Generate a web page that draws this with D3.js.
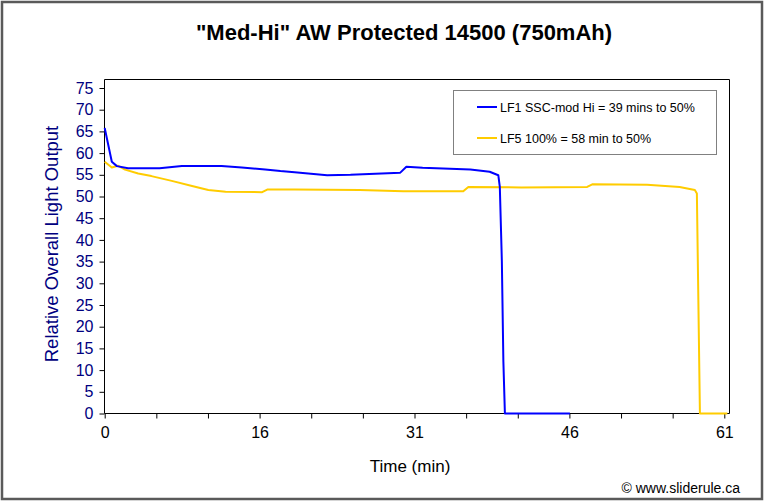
<!DOCTYPE html>
<html>
<head>
<meta charset="utf-8">
<script src="https://cdn.jsdelivr.net/npm/d3@7"></script>
<style>
  html, body { margin: 0; padding: 0; background: #fff; }
  svg { display: block; font-family: "Liberation Sans", Arial, sans-serif; }
</style>
</head>
<body>
<svg id="chart" width="766" height="502"></svg>
<script>
// ---- data ----
const chartTitle = '"Med-Hi" AW Protected 14500 (750mAh)';
const yAxisTitle = "Relative Overall Light Output";
const xAxisTitle = "Time (min)";
const credit = "\u00A9 www.sliderule.ca";

const seriesNames = ["LF1 SSC-mod Hi = 39 mins to 50%", "LF5 100% = 58 min to 50%"];

const lf1Time  = [0, 0.7, 1.2, 2.3, 5.4, 7.6, 11.5, 13.5, 15.8, 17.3, 18.7, 21.9, 24.2, 29.1, 29.7, 31.3, 36.0, 37.9, 38.75, 38.9, 39.1, 39.25, 39.4, 45.8];
const lf1Value = [65.8, 58.0, 57.0, 56.5, 56.5, 57.0, 57.0, 56.7, 56.2, 55.85, 55.6, 54.9, 55.0, 55.5, 56.85, 56.6, 56.2, 55.7, 54.9, 52.2, 35.1, 12.0, 0, 0];

const lf5Time  = [0, 0.7, 1.3, 2.0, 3.3, 4.6, 6.6, 8.6, 10.2, 11.9, 15.5, 16.0, 18.7, 25.1, 29.4, 35.3, 35.8, 41.0, 47.5, 48.0, 53.4, 56.6, 58.1, 58.3, 58.6, 61.3];
const lf5Value = [58.0, 56.7, 57.1, 56.2, 55.3, 54.7, 53.6, 52.4, 51.5, 51.1, 51.0, 51.6, 51.6, 51.5, 51.2, 51.2, 52.2, 52.1, 52.2, 52.8, 52.7, 52.2, 51.5, 50.7, 0, 0];

const yTicks = [0, 5, 10, 15, 20, 25, 30, 35, 40, 45, 50, 55, 60, 65, 70, 75];
const xTickCount = 12;           // minor tick intervals across 0..61
const xTickLabels = ["0", "16", "31", "46", "61"];

// ---- layout ----
const svg = d3.select("#chart");
const plot = { left: 104.5, right: 729.5, top: 79.5, bottom: 413.5 };
const x0 = 104.7, x61 = 724.3;

const x = d3.scaleLinear().domain([0, 61]).range([x0, x61]);
const y = d3.scaleLinear().domain([0, 75]).range([413.5, 88]);

// outer border
svg.append("rect")
  .attr("x", 2).attr("y", 2).attr("width", 760).attr("height", 497)
  .attr("fill", "#fff").attr("stroke", "#5a5a5a").attr("stroke-width", 2.5);

// title
svg.append("text")
  .attr("x", 404).attr("y", 40)
  .attr("text-anchor", "middle")
  .attr("font-size", 22).attr("font-weight", "bold")
  .text(chartTitle);

// plot frame (top and right)
svg.append("path")
  .attr("d", `M${plot.left},${plot.top}H${plot.right}V${plot.bottom}`)
  .attr("fill", "none").attr("stroke", "#000").attr("stroke-width", 1);

// y axis
const yAxis = d3.axisLeft(y).tickValues(yTicks).tickSize(5).tickPadding(6);
const gy = svg.append("g").attr("transform", `translate(${plot.left},0)`).call(yAxis);
gy.select(".domain").attr("d", `M0,${plot.top}V${plot.bottom}`);
gy.selectAll("text").attr("font-size", 16).attr("fill", "#000080")
  .attr("font-family", "'Liberation Sans', Arial, sans-serif");
gy.selectAll("line").attr("stroke", "#000");

// x axis
const xTickVals = d3.range(xTickCount + 1).map(i => i * 61 / xTickCount);
const xAxis = d3.axisBottom(x).tickValues(xTickVals).tickSize(5).tickPadding(8)
  .tickFormat((d, i) => (i % 3 === 0 ? xTickLabels[i / 3] : ""));
const gx = svg.append("g").attr("transform", `translate(0,${plot.bottom})`).call(xAxis);
gx.select(".domain").attr("d", `M${plot.left},0H${plot.right}`);
gx.selectAll("text").attr("font-size", 16).attr("fill", "#000")
  .attr("font-family", "'Liberation Sans', Arial, sans-serif");
gx.selectAll("line").attr("stroke", "#000");

// axis titles
svg.append("text")
  .attr("transform", `translate(58,244) rotate(-90)`)
  .attr("text-anchor", "middle")
  .attr("font-size", 18.5).attr("fill", "#000080")
  .text(yAxisTitle);

svg.append("text")
  .attr("x", 410).attr("y", 472)
  .attr("text-anchor", "middle")
  .attr("font-size", 17).attr("fill", "#000")
  .text(xAxisTitle);

svg.append("text")
  .attr("x", 740).attr("y", 493)
  .attr("text-anchor", "end")
  .attr("font-size", 14).attr("fill", "#000")
  .text(credit);

// series
const line = d3.line().x(d => x(d[0])).y(d => y(d[1]));
const lf1 = lf1Time.map((t, i) => [t, lf1Value[i]]);
const lf5 = lf5Time.map((t, i) => [t, lf5Value[i]]);
const colors = ["#0000FF", "#FFCC00"];

svg.append("path").datum(lf5).attr("d", line)
  .attr("fill", "none").attr("stroke", colors[1]).attr("stroke-width", 2)
  .attr("stroke-linejoin", "round");
svg.append("path").datum(lf1).attr("d", line)
  .attr("fill", "none").attr("stroke", colors[0]).attr("stroke-width", 2)
  .attr("stroke-linejoin", "round");

// legend
const lg = svg.append("g");
lg.append("rect")
  .attr("x", 453.5).attr("y", 90.5).attr("width", 263).attr("height", 64)
  .attr("fill", "#fff").attr("stroke", "#808080").attr("stroke-width", 1);
seriesNames.forEach((name, i) => {
  const yy = 107 + i * 31;
  lg.append("line").attr("x1", 477).attr("x2", 497).attr("y1", yy).attr("y2", yy)
    .attr("stroke", colors[i]).attr("stroke-width", 2);
  lg.append("text").attr("x", 500).attr("y", yy + 4.5)
    .attr("font-size", 12.5).attr("fill", "#000").text(name);
});
</script>
</body>
</html>
